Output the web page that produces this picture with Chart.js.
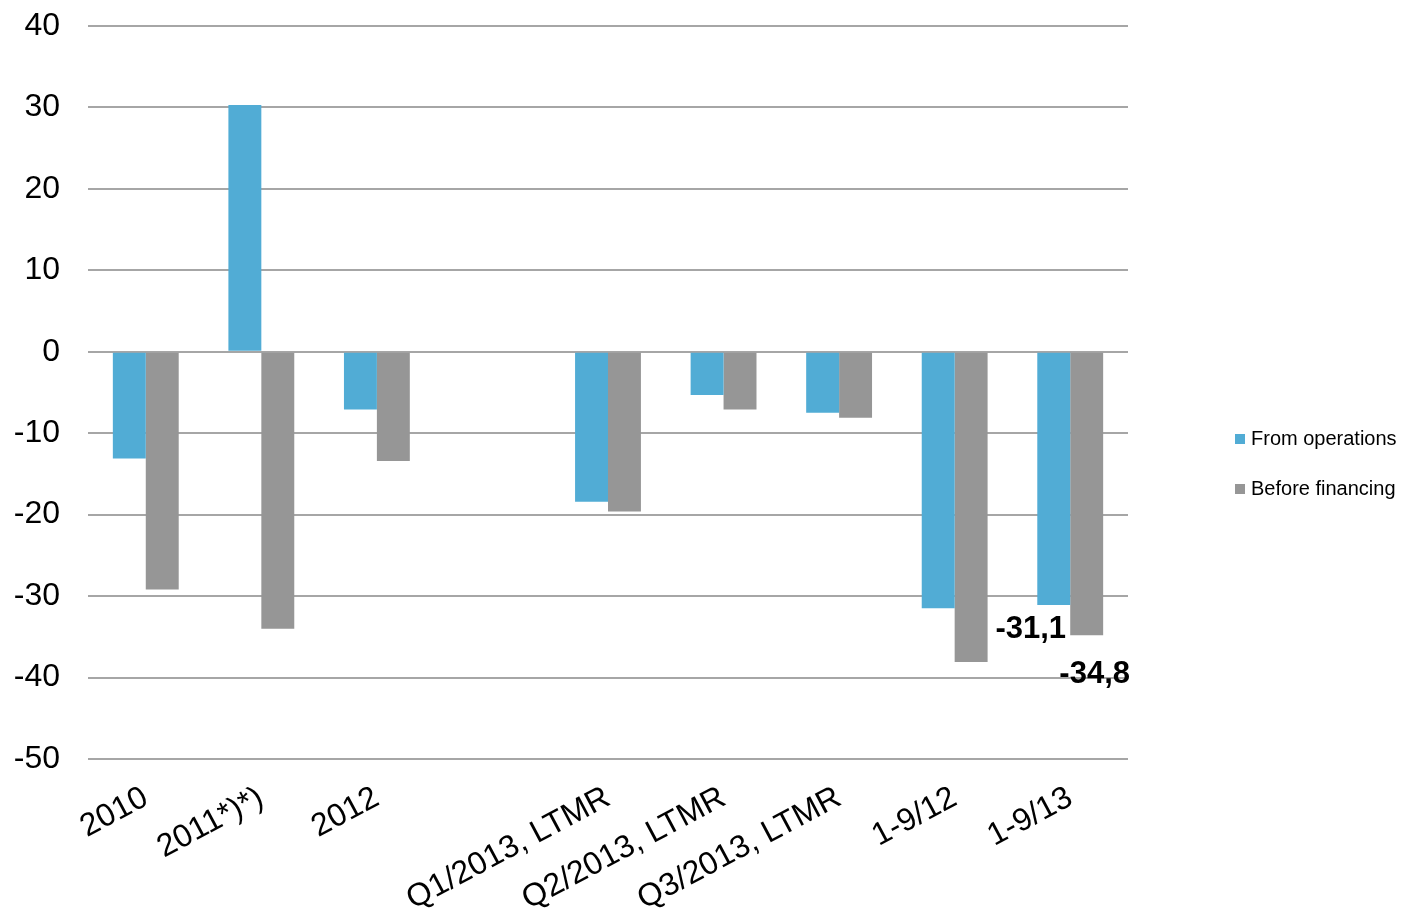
<!DOCTYPE html>
<html>
<head>
<meta charset="utf-8">
<script src="https://cdn.jsdelivr.net/npm/chart.js@4/dist/chart.umd.min.js"></script>
<style>
  html, body { margin: 0; padding: 0; background: #fff; }
  #wrap { width: 1404px; height: 919px; }
</style>
</head>
<body>
<div id="wrap"><canvas id="myChartBar" width="1404" height="919"></canvas></div>
<script>
const categories = ['2010', '2011*)*)', '2012', '', 'Q1/2013, LTMR', 'Q2/2013, LTMR', 'Q3/2013, LTMR', '1-9/12', '1-9/13'];
const fromOperations = [-13.1, 30.3, -7.1, null, -18.4, -5.3, -7.5, -31.5, -31.1];
const beforeFinancing = [-29.2, -34.0, -13.4, null, -19.6, -7.1, -8.1, -38.1, -34.8];
const opsLabels = [null, null, null, null, null, null, null, null, '-31,1'];
const finLabels = [null, null, null, null, null, null, null, null, '-34,8'];
const yTicks = [40, 30, 20, 10, 0, -10, -20, -30, -40, -50];

const FONT = '"Liberation Sans", Arial, sans-serif';

// value labels next to the last pair of bars + legend on the right
const extras = {
  id: 'extras',
  afterDatasetsDraw(chart) {
    const ctx = chart.ctx;
    ctx.save();
    ctx.font = 'bold 31px ' + FONT;
    ctx.fillStyle = '#000';
    ctx.textAlign = 'center';
    ctx.textBaseline = 'middle';
    [[0, opsLabels, -23, 24], [1, finLabels, 8, 39]].forEach(([di, labels, dx, dy]) => {
      chart.getDatasetMeta(di).data.forEach((bar, i) => {
        if (labels[i]) ctx.fillText(labels[i], bar.x + dx, bar.y + dy);
      });
    });

    // legend
    ctx.font = '20px ' + FONT;
    ctx.textAlign = 'left';
    const lx = chart.chartArea.right + 107;
    chart.data.datasets.forEach((ds, i) => {
      const ly = 439 + i * 50;
      ctx.fillStyle = ds.backgroundColor;
      ctx.fillRect(lx, ly - 5, 10, 10);
      ctx.fillStyle = '#000';
      ctx.fillText(ds.label, lx + 16, ly);
    });
    ctx.restore();
  }
};

const ctxBar = document.getElementById('myChartBar');

new Chart(ctxBar, {
  type: 'bar',
  data: {
    labels: categories,
    datasets: [{
      label: 'From operations',
      data: fromOperations,
      backgroundColor: '#51acd5',
      categoryPercentage: 0.57,
      barPercentage: 1
    }, {
      label: 'Before financing',
      data: beforeFinancing,
      backgroundColor: '#969696',
      categoryPercentage: 0.57,
      barPercentage: 1
    }]
  },
  options: {
    responsive: false,
    animation: false,
    layout: { padding: { top: 0, right: 276, left: 0, bottom: 0 } },
    plugins: {
      legend: { display: false },
      tooltip: { enabled: false }
    },
    scales: {
      x: {
        grid: { display: false },
        border: { display: false },
        afterFit(axis) { axis.height = 160; },
        ticks: {
          minRotation: 28,
          maxRotation: 28,
          padding: 12,
          color: '#000',
          autoSkip: false,
          font: { size: 32, family: FONT }
        }
      },
      y: {
        min: -50,
        max: 40,
        afterBuildTicks(axis) { axis.ticks = yTicks.map(v => ({ value: v })); },
        afterFit(axis) {
          axis.width = 88;
          axis.paddingTop = 26;
          axis.paddingBottom = 0;
        },
        border: { display: false },
        grid: { color: '#a6a6a6', lineWidth: 2, drawTicks: false },
        ticks: {
          padding: 28,
          color: '#000',
          font: { size: 32, family: FONT }
        }
      }
    }
  },
  plugins: [extras]
});
</script>
</body>
</html>
